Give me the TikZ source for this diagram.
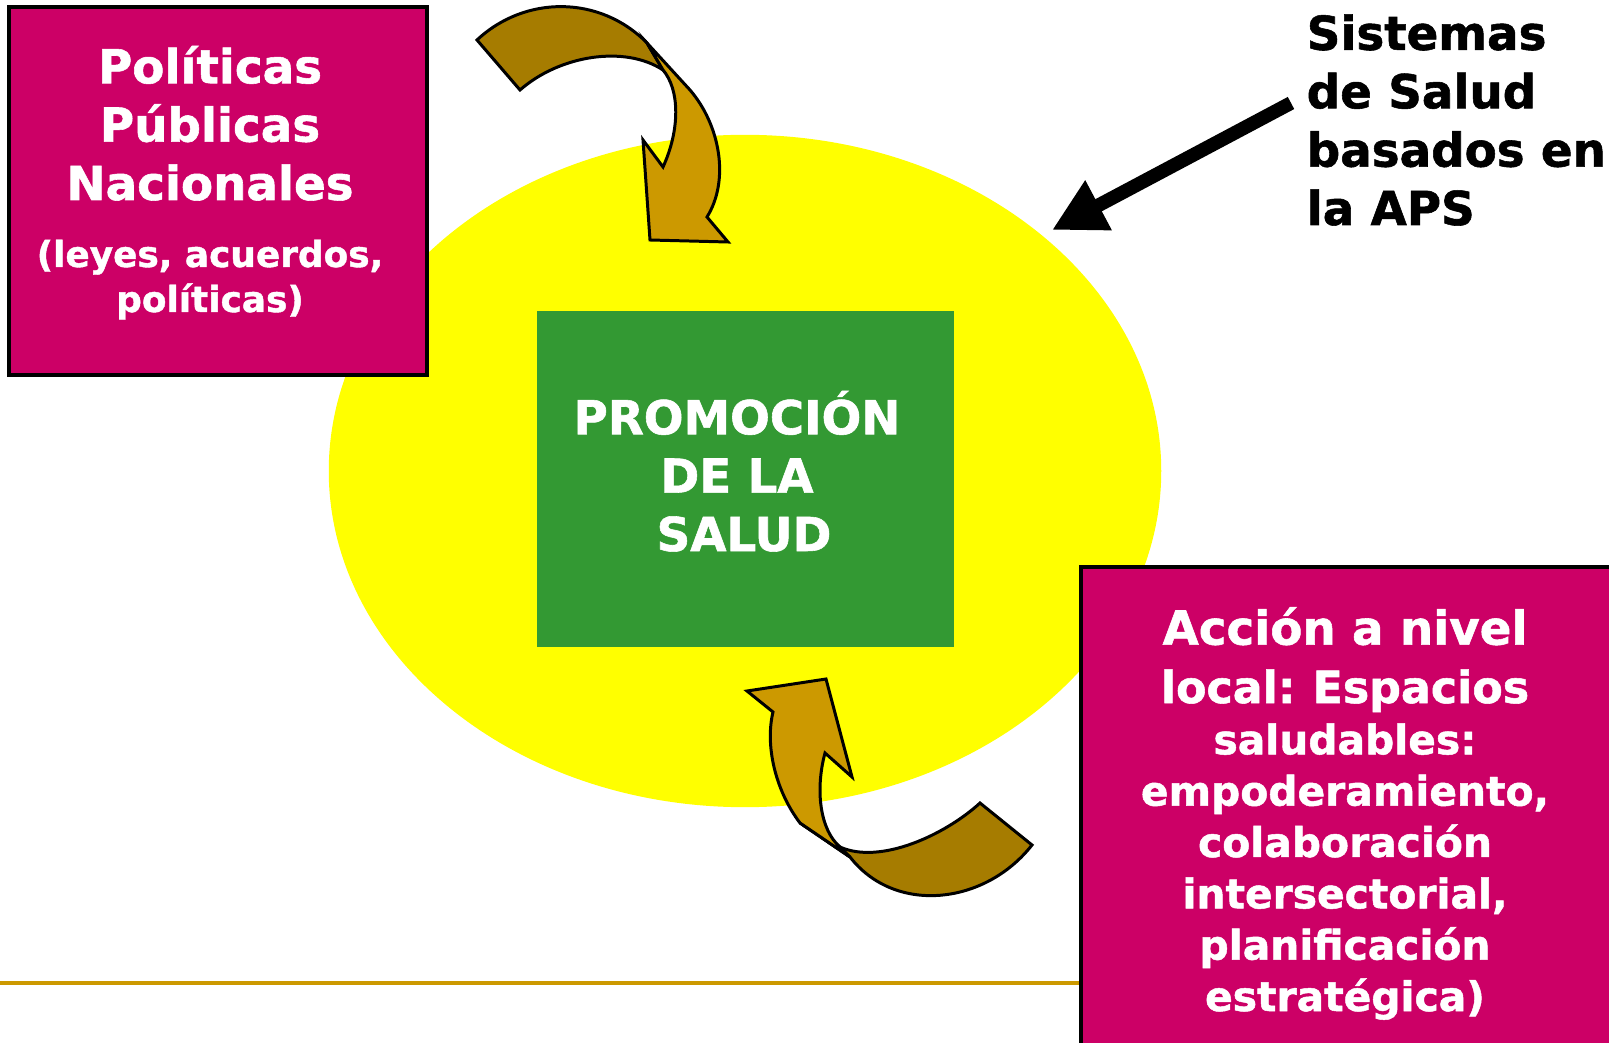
\documentclass[tikz,border=0pt]{standalone}
\usepackage{fontspec}
\setmainfont{DejaVu Sans}[BoldFeatures={FakeBold=1.2}]
\usetikzlibrary{arrows.meta,shapes.geometric}
\definecolor{mag}{HTML}{CC0066}
\definecolor{grn}{HTML}{339933}
\definecolor{ylw}{HTML}{FFFF00}
\definecolor{gold}{HTML}{CC9900}
\definecolor{darkgold}{HTML}{A67C00}
\newcommand{\bigf}{\fontsize{13.3pt}{16.6pt}\selectfont\bfseries}
\newcommand{\smallf}{\fontsize{10.2pt}{12.8pt}\selectfont\bfseries}
\newcommand{\midf}{\fontsize{11.6pt}{14.6pt}\selectfont\bfseries}
\begin{document}
\begin{tikzpicture}[x=0.01cm,y=-0.01cm,
  box/.style={draw=black,line width=1pt,inner sep=0pt,rectangle},
  wtxt/.style={text=white,align=center,inner sep=0pt,anchor=base},
  band/.style={draw=black,line width=0.85pt,line join=miter}]
\useasboundingbox (0,0) rectangle (1609,1043);
\clip (0,0) rectangle (1609,1043);
% ellipse
\node[ellipse,fill=ylw,inner sep=0pt,minimum width=8.32cm,minimum height=6.72cm] (ell) at (745,471) {};
% gold baseline
\coordinate (gl0) at (0,983);
\coordinate (gl1) at (1081,983);
\draw[gold,line width=0.9pt] (gl0) -- (gl1);
% green box
\node[fill=grn,inner sep=0pt,minimum width=4.17cm,minimum height=3.36cm] (prom) at (745.5,479) {};
\node[wtxt,font=\bigf] (promt) at (737,551) {PROMOCIÓN\\DE LA\\\hspace*{0.14cm}SALUD};
% left box
\node[box,fill=mag,minimum width=4.18cm,minimum height=3.68cm] (pol) at (218,191) {};
\node[wtxt,font=\bigf] (polt) at (210,200) {Políticas\\Públicas\\Nacionales};
\node[wtxt,font=\smallf] (pols) at (210,312) {(leyes, acuerdos,\\políticas)};
% right box
\node[box,fill=mag,minimum width=5.59cm,minimum height=5.13cm] (acc) at (1360.5,823.5) {};
\node[wtxt,font=\bigf] (acct) at (1345,703) {Acción a nivel\\{\fontsize{12.6pt}{16.6pt}\selectfont local:\hspace{-1pt} Espacios}};
\node[wtxt,font=\midf] (accs) at (1345,1011) {saludables:\\empoderamiento,\\colaboración\\intersectorial,\\planificación\\estratégica)};
% right label
\node[align=left,inner sep=0pt,anchor=base west,font=\bigf] (sis) at (1306,225) {Sistemas\\de Salud\\basados en\\la APS};
% black arrow
\coordinate (sTail) at (1291,103);
\coordinate (sTip) at (1052,230);
\draw[line width=3.9pt,-{Triangle[length=15pt,width=15pt]}] (sTail) -- (sTip);
% top curved arrow (back band)
\filldraw[band,fill=darkgold] (477,40) .. controls (525,-5) and (600,-5) .. (647,43)
  -- (663,70) .. controls (625,45) and (560,55) .. (520,90) -- cycle;
% top curved arrow (front band with head)
\filldraw[band,fill=gold] (647,43) -- (690,90) .. controls (720,125) and (730,180) .. (707,217)
  -- (728,242) -- (650,240) -- (643,140) -- (663,167)
  .. controls (680,130) and (680,90) .. (663,70) -- cycle;
% bottom curved arrow (back band)
\filldraw[band,fill=darkgold] (800,823) -- (850,857) .. controls (895,915) and (985,905) .. (1032,845)
  -- (980,803) .. controls (945,835) and (880,865) .. (840,847) -- cycle;
% bottom curved arrow (front band with head)
\filldraw[band,fill=gold] (773,712) -- (747,691) -- (826,679) -- (852,777) -- (825,753)
  .. controls (815,790) and (820,830) .. (840,847) -- (850,857) -- (800,823)
  .. controls (775,790) and (765,745) .. (773,712) -- cycle;
\end{tikzpicture}
\end{document}
